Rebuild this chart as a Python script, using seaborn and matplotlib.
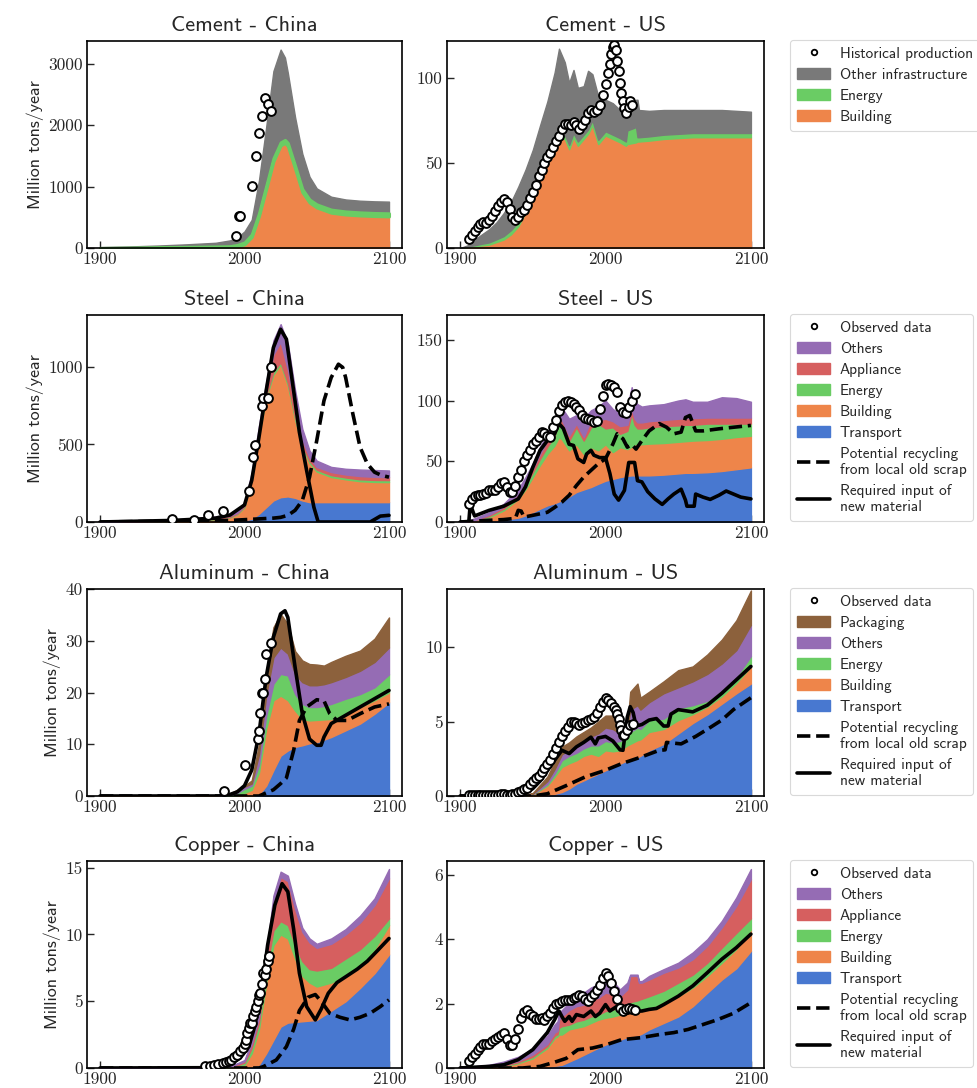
import matplotlib
matplotlib.use("Agg")
import matplotlib.pyplot as plt
import numpy as np
import seaborn as sns
from matplotlib.lines import Line2D
from matplotlib.patches import Patch

sns.set_theme(style="ticks", palette="muted")
plt.rcParams["font.family"] = ["cmss10", "DejaVu Sans"]
plt.rcParams["axes.unicode_minus"] = False

pal = sns.color_palette("muted")
C_TRANSPORT, C_BUILDING, C_ENERGY = pal[0], pal[1], pal[2]
C_APPLIANCE, C_OTHERS, C_PACKAGING, C_INFRA = pal[3], pal[4], pal[5], pal[7]

# ---------------- Cement - China ----------------
cem_cn_years = [1900, 1920, 1940, 1960, 1980, 1990, 1995, 2000, 2005, 2010, 2015, 2020, 2025, 2028,
                2030, 2035, 2040, 2045, 2050, 2060, 2070, 2080, 2090, 2100]
cem_cn_building = [0, 2, 5, 10, 15, 15, 30, 60, 180, 520, 960, 1410, 1670, 1710,
                   1660, 1290, 910, 740, 660, 575, 545, 530, 520, 515]
cem_cn_energy = [0, 1, 3, 8, 10, 15, 20, 30, 40, 45, 50, 50, 50, 50,
                 50, 50, 50, 50, 50, 50, 50, 50, 50, 50]
cem_cn_other = [15, 22, 32, 42, 60, 94, 120, 180, 240, 535, 960, 1420, 1510, 1340,
                1140, 790, 575, 370, 260, 210, 195, 190, 190, 190]
cem_cn_obs_years = [1994, 1996, 1997, 2005, 2008, 2010, 2012, 2014, 2016, 2018]
cem_cn_obs = [190, 520, 520, 1010, 1500, 1870, 2150, 2450, 2340, 2230]

# ---------------- Cement - US ----------------
cem_us_years = [1900, 1905, 1910, 1915, 1920, 1925, 1930, 1935, 1940, 1945, 1950, 1955, 1960, 1965,
                1968, 1972, 1975, 1978, 1981, 1985, 1988, 1991, 1995, 2000, 2005, 2010, 2014, 2015,
                2021, 2022, 2023, 2030, 2040, 2050, 2060, 2070, 2080, 2090, 2100]
cem_us_building = [0, 0.5, 1, 1.5, 2, 3.5, 5, 8, 12.7, 21, 32, 43, 54, 61.5,
                   65, 64, 58, 65, 60, 64, 67, 72, 61, 66, 64, 62, 60, 61,
                   62, 62.5, 62.5, 63, 64, 64.5, 65, 65, 65, 65, 65]
cem_us_energy = [0, 0.3, 0.6, 1, 1.3, 1.6, 2, 2.5, 2.5, 2.5, 2.5, 2.5, 2.5, 2.5,
                 2.5, 2.5, 2.5, 2.5, 2.5, 2.5, 2.5, 3, 2.5, 2.5, 2.5, 2.5, 2.5, 8,
                 9, 2.5, 2.5, 2.5, 2.5, 2.5, 2.5, 2.5, 2.5, 2.5, 2.5]
cem_us_other = [0, 0.7, 3.4, 5.5, 7.7, 9.9, 13.5, 16.5, 20.8, 22.5, 23.1, 26.5, 29.5, 39,
                49.5, 42.5, 36.5, 37, 31.5, 28.5, 34.5, 27, 25.5, 18.5, 18.5, 16.5, 16.5, 10,
                16, 22, 16, 15, 14.5, 14, 13.5, 13.5, 13.5, 13, 12.5]
cem_us_obs_years = [1906, 1908, 1910, 1912, 1914, 1916, 1918, 1920, 1922, 1924, 1926, 1928, 1930,
                    1932, 1934, 1936, 1938, 1940, 1942, 1944, 1946, 1948, 1950, 1952, 1954, 1956,
                    1958, 1960, 1962, 1964, 1966, 1968, 1970, 1972, 1974, 1976, 1978, 1980, 1982,
                    1984, 1986, 1988, 1990, 1992, 1994, 1996, 1998, 2000, 2002, 2003, 2004, 2005,
                    2006, 2007, 2008, 2009, 2010, 2011, 2012, 2013, 2014, 2016, 2017, 2018]
cem_us_obs = [5, 7.5, 10, 12.5, 14, 15, 14.5, 16.5, 19, 22, 24.5, 27, 28.5,
              27, 23, 18, 16.5, 18, 21, 22.5, 25.5, 29.5, 33, 37, 42, 46,
              50, 53.7, 56, 59, 63, 66, 70, 73, 73, 72, 74, 72, 70,
              72, 75, 79, 81, 80, 81, 84, 90, 96, 103, 108, 114, 118,
              119, 116, 110, 104, 97, 91, 86, 82, 79, 83, 86, 84]

# ---------------- Steel - China ----------------
st_cn_years = [1900, 1950, 1980, 1990, 1995, 2000, 2005, 2010, 2015, 2020, 2025, 2030, 2035, 2040,
               2045, 2050, 2060, 2070, 2080, 2090, 2100]
st_cn_transport = [0, 0, 2, 5, 8, 12, 21, 53, 96, 139, 160, 165, 156, 139, 128, 128, 128, 128, 128, 128, 128]
st_cn_building = [2, 5, 16, 25, 42, 84, 259, 507, 704, 811, 857, 715, 504, 341, 252, 197, 162, 147, 135, 130, 129]
st_cn_energy = [0, 1, 2, 3, 4, 6, 10, 13, 16, 19, 13, 16, 16, 14, 13, 12, 12, 12, 12, 13, 13]
st_cn_appliance = [0, 2, 5, 7, 6, 8, 10, 17, 34, 111, 130, 84, 64, 36, 22, 18, 20, 19, 21, 20, 19]
st_cn_others = [2, 7, 10, 15, 20, 15, 20, 30, 50, 90, 115, 170, 110, 70, 45, 40, 33, 37, 42, 44, 43]
st_cn_new_years = [1900, 1950, 1980, 1990, 2000, 2005, 2010, 2015, 2020, 2025, 2029, 2034, 2038, 2043,
                   2048, 2051, 2087, 2094, 2100]
st_cn_new = [0, 10, 25, 45, 110, 268, 546, 846, 1124, 1242, 1178, 846, 578, 332, 96, 0, 0, 38, 43]
st_cn_rec_years = [1900, 1990, 2000, 2010, 2020, 2025, 2030, 2035, 2040, 2045, 2050, 2055, 2060, 2065,
                   2068, 2070, 2075, 2080, 2085, 2090, 2095, 2100]
st_cn_rec = [0, 10, 15, 20, 25, 30, 43, 75, 139, 289, 525, 782, 931, 1017, 996, 931, 696, 482, 375, 321, 300, 289]
st_cn_obs_years = [1950, 1965, 1975, 1985, 2003, 2006, 2007, 2012, 2013, 2016, 2018]
st_cn_obs = [17, 15, 43, 71, 199, 418, 497, 750, 799, 797, 1000]

# ---------------- Steel - US ----------------
st_us_years = [1900, 1905, 1910, 1920, 1930, 1940, 1945, 1950, 1955, 1960, 1965, 1968, 1970, 1975,
               1980, 1985, 1990, 1995, 2000, 2005, 2010, 2015, 2018, 2020, 2022, 2025, 2030, 2040,
               2050, 2055, 2060, 2070, 2080, 2090, 2100]
st_us_transport = [0, 0, 0.3, 1, 2, 3.6, 5.5, 8.2, 11, 13.7, 15.5, 17, 17.8, 21,
                   24.7, 26.8, 28.8, 31.5, 34, 35.5, 37, 38, 38.4, 38.4, 38.4, 38.4, 38.4, 39,
                   40, 40.5, 40.5, 41, 42, 43.5, 45]
st_us_building = [0, 0.3, 0.7, 3, 7.6, 15.4, 21.5, 28.8, 36, 42.3, 47.5, 53, 50.2, 38,
                  39.3, 29.2, 32.8, 27.5, 30, 22, 24.6, 22, 23.6, 25.6, 25.6, 25.6, 26.1, 26,
                  26, 26, 26.5, 26.5, 26.5, 26.5, 26]
st_us_energy = [0, 0.1, 0.3, 1, 1.4, 2, 3, 4, 5, 6, 8, 15, 12, 8,
                14, 11, 16.4, 22, 13, 20.5, 11, 15, 27, 16, 13, 13, 13.5, 14,
                13.5, 13.5, 13, 13.5, 12.5, 11, 10]
st_us_appliance = [0, 0.1, 0.3, 1, 1.5, 2, 3, 3, 4, 5, 5, 3, 4, 4,
                   3, 3, 5.5, 3, 8, 5, 6.4, 5, 4, 5, 5, 5, 5, 5,
                   5.5, 5.5, 5.5, 5, 5, 5, 5]
st_us_others = [0, 0.5, 1.4, 2, 2.5, 4, 4, 4, 6, 6, 9, 8, 10, 14,
                7, 15, 8.5, 11, 15, 10, 10, 15, 18, 15, 15, 13, 13, 13,
                15, 15.5, 13.5, 13, 16.7, 16, 13]
st_us_new_years = [1900, 1906, 1907, 1909, 1910, 1920, 1930, 1935, 1940, 1945, 1950, 1955, 1960, 1965,
                   1968, 1971, 1975, 1978, 1981, 1985, 1987, 1990, 1992, 1996, 2000, 2003, 2006, 2009,
                   2013, 2016, 2020, 2022, 2025, 2029, 2034, 2039, 2043, 2047, 2052, 2055, 2056, 2061,
                   2062, 2067, 2072, 2078, 2083, 2088, 2093, 2100]
st_us_new = [0, 0, 15, 8, 5, 9.6, 13, 16, 19, 29, 45, 59, 67, 72.6,
             81, 77, 64, 63, 52, 49, 56, 59, 55, 53, 53, 40, 23, 18,
             26, 49, 49, 34, 33, 25, 19, 14.5, 19, 23, 27, 18, 13, 13,
             23, 20.5, 18.6, 22, 25.5, 23, 20.5, 19]
st_us_rec_years = [1900, 1920, 1930, 1938, 1940, 1942, 1944, 1950, 1960, 1965, 1970, 1975, 1980, 1985,
                   1990, 1995, 2000, 2005, 2008, 2012, 2015, 2018, 2021, 2025, 2030, 2037, 2042, 2047,
                   2052, 2055, 2058, 2062, 2067, 2078, 2088, 2100]
st_us_rec = [0, 1.4, 2, 3, 9.6, 9, 4, 5.5, 8, 12, 16.4, 22, 30, 37,
             42.5, 48, 52, 64, 72.6, 68.5, 61.6, 64, 60, 67, 75, 81, 78, 72.6,
             74, 86, 87.7, 75, 75, 76.7, 78, 79.5]
st_us_obs_years = list(range(1906, 2021, 2))
st_us_obs = [15, 19, 21, 22, 22.5, 23, 24, 26, 26, 26,
             29, 32, 33, 29, 25, 25, 30, 37, 43, 50,
             55, 59, 64, 67, 70, 74, 73, 71, 70, 78,
             84, 91, 96, 98.6, 100, 99, 97.5, 95, 91.8, 87.7,
             86, 84.5, 83.6, 82, 83, 93, 104, 113, 113.7, 112.5,
             111, 107, 94.5, 90.4, 89.6, 94.5, 100, 105.5]

# ---------------- Aluminum - China ----------------
al_cn_years = [1900, 1980, 1990, 1995, 2000, 2005, 2010, 2015, 2020, 2025, 2030, 2035, 2040, 2045,
               2050, 2055, 2060, 2070, 2080, 2090, 2100]
al_cn_transport = [0, 0, 0, 0, 0, 0, 0.3, 2, 5, 7.8, 8.8, 9.5, 9.8, 10.2, 10.4, 10.9, 11.4, 12.7, 14, 15.9, 18.1]
al_cn_building = [0, 0, 0.05, 0.1, 0.6, 1.2, 4.2, 11, 13.5, 11.6, 9.7, 7, 5.1, 4.4, 4.3, 3.9, 3.5, 3.2, 3.2, 2.6, 1.9]
al_cn_energy = [0, 0.05, 0.15, 0.5, 0.8, 0.8, 1.5, 2.5, 3.2, 4.2, 4.8, 3.2, 2.9, 2.6, 2.5, 2.6, 2.9, 2.9, 2.5, 2.5, 3.5]
al_cn_others = [0, 0.05, 0.2, 0.4, 0.4, 0.4, 2, 4, 5.1, 5.1, 4.2, 3.9, 4.2, 4.2, 4.2, 4.2, 4.2, 4.2, 4.5, 4.9, 5.2]
al_cn_packaging = [0, 0, 0.1, 0.2, 0.2, 0.6, 2, 4.5, 5.8, 6.5, 5.7, 4.4, 4.2, 4.1, 4, 3.6, 3.9, 4.1, 3.9, 4.5, 5.8]
al_cn_new_years = [1900, 1985, 1990, 1995, 2000, 2005, 2010, 2015, 2020, 2025, 2028, 2030, 2035, 2040,
                   2045, 2050, 2053, 2055, 2060, 2070, 2080, 2090, 2100]
al_cn_new = [0, 0, 0.3, 0.8, 2, 5, 12, 23, 30.7, 35.2, 35.8, 34.5, 24.9, 15.9,
             11, 9.8, 9.8, 11.4, 14, 15.6, 17.2, 18.8, 20.4]
al_cn_rec_years = [1900, 2010, 2015, 2020, 2025, 2029, 2034, 2038, 2043, 2050, 2055, 2059, 2064, 2071,
                   2080, 2090, 2100]
al_cn_rec = [0, 0, 0.6, 1.2, 2.4, 3.5, 8.8, 14.6, 17.2, 18.6, 18.4, 15.9, 14.6, 14.6, 15.9, 17.2, 17.8]
al_cn_obs_years = [1986, 2000, 2009, 2010, 2011, 2012, 2013, 2014, 2015, 2018]
al_cn_obs = [1, 6, 11, 12.5, 16, 20, 20, 22.7, 27.5, 29.5]

# ---------------- Aluminum - US ----------------
al_us_years = [1900, 1940, 1950, 1960, 1965, 1970, 1975, 1980, 1985, 1990, 1995, 2000, 2005, 2010,
               2015, 2017, 2022, 2024, 2030, 2040, 2050, 2060, 2070, 2080, 2090, 2100]
al_us_transport = [0, 0, 0, 0.05, 0.15, 0.27, 0.5, 0.83, 1.05, 1.28, 1.5, 1.73, 1.95, 2.17,
                   2.4, 2.45, 2.6, 2.7, 3.07, 3.5, 4.2, 4.9, 5.5, 6.2, 6.9, 7.55]
al_us_building = [0, 0, 0.1, 0.65, 1.15, 1.68, 1.7, 1.57, 1.65, 1.57, 1.2, 1.34, 1.05, 0.9,
                  1.0, 1.05, 1.15, 1.1, 1.23, 1.0, 0.9, 0.6, 0.5, 0.5, 0.7, 1.15]
al_us_energy = [0, 0, 0.02, 0.1, 0.2, 0.45, 0.5, 0.5, 0.5, 0.55, 0.7, 0.63, 0.6, 0.63,
                0.6, 0.8, 0.85, 0.7, 0.8, 0.7, 0.8, 0.6, 0.4, 0.4, 0.4, 0.7]
al_us_others = [0, 0, 0.03, 0.2, 0.3, 0.4, 0.4, 0.5, 0.5, 0.6, 0.8, 0.9, 0.9, 0.5,
                0.5, 1.5, 1.5, 1.3, 1.2, 1.7, 1.4, 1.6, 1.8, 1.8, 1.8, 2.1]
al_us_packaging = [0, 0, 0.05, 0.3, 0.5, 0.5, 0.5, 0.6, 0.6, 0.6, 0.8, 0.8, 0.9, 0.2,
                   0.2, 1.2, 1.45, 0.8, 0.7, 0.8, 1.15, 1.0, 1.3, 1.6, 2.0, 2.3]
al_us_new_years = [1900, 1940, 1945, 1950, 1955, 1960, 1965, 1970, 1975, 1980, 1985, 1990, 1993, 1995,
                   2000, 2005, 2010, 2012, 2015, 2017, 2019, 2021, 2025, 2030, 2035, 2040, 2043, 2045,
                   2050, 2060, 2070, 2080, 2090, 2100]
al_us_new = [0, 0, 0.2, 0.5, 1.0, 1.7, 2.4, 3.07, 2.85, 3.3, 3.6, 3.95, 3.5, 3.9,
             4.0, 3.7, 3.1, 3.07, 5.3, 6.0, 5.6, 4.7, 4.8, 5.1, 5.2, 4.7, 4.7, 5.5,
             5.8, 5.65, 6.1, 6.9, 7.8, 8.7]
al_us_rec_years = [1900, 1950, 1960, 1973, 1986, 2000, 2011, 2024, 2037, 2041, 2042, 2052, 2062, 2072,
                   2080, 2088, 2100]
al_us_rec = [0, 0, 0.15, 0.7, 1.28, 1.73, 2.17, 2.6, 3.07, 3.1, 3.6, 3.5, 4.0, 4.6, 5.1, 5.8, 6.6]
al_us_obs_years = [1906, 1908, 1910, 1912, 1914, 1916, 1918, 1920, 1922, 1924, 1926, 1928, 1930, 1932,
                   1934, 1936, 1938, 1940, 1942, 1944, 1946, 1948,
                   1950, 1952, 1954, 1956, 1958, 1960, 1962, 1964, 1966, 1968, 1970, 1972, 1974, 1976,
                   1978, 1980, 1982, 1984, 1986, 1988, 1990, 1992, 1994, 1996, 1998, 2000, 2002, 2004,
                   2006, 2007, 2008, 2009, 2010, 2011, 2012, 2013, 2015, 2017, 2019]
al_us_obs = [0.05, 0.05, 0.05, 0.06, 0.08, 0.1, 0.1, 0.1, 0.1, 0.1, 0.1, 0.12, 0.12, 0.1,
             0.1, 0.12, 0.15, 0.25, 0.35, 0.45, 0.55, 0.8,
             1.0, 1.2, 1.35, 1.6, 1.9, 2.15, 2.45, 2.8, 3.2, 3.6, 4.0, 4.35, 4.65, 4.95,
             5.0, 4.9, 4.8, 4.9, 5.0, 5.1, 5.2, 5.3, 5.6, 5.95, 6.3, 6.55, 6.45, 6.25,
             5.95, 5.75, 5.5, 5.2, 4.8, 4.4, 4.1, 4.1, 4.4, 4.75, 4.85]

# ---------------- Copper - China ----------------
cu_cn_years = [1900, 1970, 1990, 1995, 2000, 2005, 2010, 2015, 2020, 2025, 2030, 2035, 2040, 2045,
               2050, 2060, 2070, 2080, 2090, 2100]
cu_cn_transport = [0, 0, 0, 0, 0, 0.1, 0.25, 1.1, 2.1, 3.1, 3.4, 3.45, 3.5, 3.55, 3.6, 4.3, 5.0, 6.0, 7.1, 8.5]
cu_cn_building = [0, 0.02, 0.05, 0.1, 0.25, 1.0, 2.65, 5.3, 7.1, 6.9, 6.3, 4.75, 3.4, 2.85, 2.5, 2.1, 1.9, 1.65, 1.8, 2.2]
cu_cn_energy = [0, 0.01, 0.03, 0.1, 0.15, 0.4, 0.5, 0.9, 1.1, 1.0, 1.0, 1.0, 1.1, 1.0, 1.2, 1.1, 1.3, 1.25, 1.0, 0.5]
cu_cn_appliance = [0, 0.01, 0.02, 0.1, 0.1, 0.3, 0.4, 0.8, 2.0, 3.3, 3.3, 2.7, 2.2, 2.0, 1.7, 1.8, 1.8, 2.0, 2.3, 3.0]
cu_cn_others = [0, 0.01, 0.05, 0.05, 0.1, 0.2, 0.2, 0.4, 0.6, 0.4, 0.4, 0.4, 0.3, 0.3, 0.3, 0.4, 0.4, 0.5, 0.5, 0.7]
cu_cn_new_years = [1900, 1970, 1990, 1997, 2003, 2007, 2012, 2016, 2021, 2026, 2030, 2034, 2038, 2043,
                   2049, 2053, 2058, 2064, 2071, 2078, 2085, 2093, 2100]
cu_cn_new = [0, 0.02, 0.3, 0.75, 1.6, 3.1, 5.9, 9.2, 12.2, 13.8, 13.2, 10.4, 7.1, 4.6,
             3.6, 4.4, 5.6, 6.4, 6.9, 7.4, 8.0, 8.9, 9.7]
cu_cn_rec_years = [1900, 2010, 2013, 2022, 2029, 2034, 2038, 2044, 2049, 2053, 2059, 2066, 2073, 2080,
                   2087, 2094, 2100]
cu_cn_rec = [0, 0, 0.1, 0.6, 1.6, 2.9, 4.3, 5.3, 5.5, 5.0, 4.1, 3.8, 3.6, 3.8, 4.1, 4.6, 5.1]
cu_cn_obs_years = [1973, 1976, 1979, 1982, 1985, 1987, 1989, 1991, 1993, 1995, 1997, 1999, 2000, 2001,
                   2002, 2003, 2004, 2005, 2006, 2007, 2008, 2009, 2010, 2011, 2012, 2013, 2014, 2015,
                   2016, 2017]
cu_cn_obs = [0.13, 0.18, 0.25, 0.33, 0.38, 0.45, 0.5, 0.63, 0.8, 1.0, 1.25, 1.5, 1.8, 2.1,
             2.6, 3.0, 3.4, 3.4, 3.9, 4.3, 4.6, 5.0, 5.5, 5.6, 6.3, 7.1, 7.0, 7.4, 8.0, 8.4]

# ---------------- Copper - US ----------------
cu_us_years = [1900, 1905, 1920, 1930, 1940, 1950, 1960, 1965, 1967, 1968, 1970, 1975, 1980, 1985,
               1990, 1995, 2000, 2005, 2010, 2015, 2017, 2022, 2023, 2025, 2030, 2040, 2050, 2060,
               2070, 2080, 2090, 2100]
cu_us_transport = [0, 0, 0, 0, 0, 0, 0.03, 0.07, 0.08, 0.09, 0.1, 0.2, 0.3, 0.41,
                   0.52, 0.63, 0.73, 0.8, 0.88, 0.96, 0.98, 1.02, 1.03, 1.07, 1.2, 1.4, 1.6, 1.92,
                   2.34, 2.75, 3.1, 3.64]
cu_us_building = [0, 0, 0.02, 0.05, 0.15, 0.3, 0.59, 0.86, 0.9, 0.95, 0.94, 1.0, 0.95, 0.89,
                  0.88, 0.87, 0.83, 0.8, 0.78, 0.76, 0.76, 0.74, 0.74, 0.72, 0.67, 0.63, 0.63, 0.58,
                  0.52, 0.52, 0.6, 0.66]
cu_us_energy = [0, 0, 0.01, 0.02, 0.03, 0.05, 0.06, 0.07, 0.07, 0.21, 0.26, 0.15, 0.2, 0.2,
                0.2, 0.16, 0.21, 0.22, 0.21, 0.25, 0.31, 0.34, 0.35, 0.36, 0.36, 0.37, 0.42, 0.4,
                0.41, 0.47, 0.5, 0.35]
cu_us_appliance = [0, 0, 0.01, 0.03, 0.04, 0.07, 0.07, 0.1, 0.1, 0.25, 0.3, 0.45, 0.47, 0.47,
                   0.53, 0.52, 0.57, 0.48, 0.36, 0.47, 0.81, 0.76, 0.53, 0.5, 0.52, 0.56, 0.47, 0.48,
                   0.53, 0.63, 0.84, 1.22]
cu_us_others = [0, 0.03, 0.06, 0.1, 0.13, 0.18, 0.25, 0.25, 0.3, 0.2, 0.2, 0.23, 0.21, 0.37,
                0.37, 0.42, 0.62, 0.4, 0.21, 0.21, 0.04, 0.04, 0.05, 0.05, 0.11, 0.11, 0.15, 0.21,
                0.2, 0.2, 0.26, 0.31]
cu_us_new_years = [1900, 1920, 1930, 1940, 1950, 1960, 1965, 1968, 1970, 1972, 1975, 1977, 1980, 1985,
                   1990, 1993, 1996, 2000, 2003, 2008, 2012, 2015, 2020, 2025, 2030, 2035, 2040, 2050,
                   2060, 2070, 2080, 2090, 2100]
cu_us_new = [0, 0.05, 0.1, 0.26, 0.57, 1.1, 1.5, 1.77, 1.6, 1.45, 1.6, 1.45, 1.66, 1.6,
             1.77, 1.6, 1.7, 1.97, 1.77, 1.92, 1.77, 1.7, 1.77, 1.77, 1.82, 1.85, 1.97, 2.23,
             2.55, 2.96, 3.38, 3.74, 4.16]
cu_us_rec_years = [1900, 1943, 1955, 1965, 1973, 1981, 1991, 2001, 2011, 2024, 2037, 2047, 2057, 2067,
                   2077, 2088, 2100]
cu_us_rec = [0, 0, 0.05, 0.18, 0.3, 0.57, 0.62, 0.73, 0.88, 0.94, 1.04, 1.1, 1.2, 1.35, 1.5, 1.7, 2.03]
cu_us_obs_years = list(range(1906, 2021, 2))
cu_us_obs = [0.22, 0.35, 0.45, 0.57, 0.65, 0.73, 0.76, 0.73, 0.83, 0.9,
             0.97, 1.02, 1.09, 0.9, 0.72, 0.72, 0.9, 1.2, 1.55, 1.75,
             1.8, 1.68, 1.6, 1.52, 1.52, 1.56, 1.5, 1.6, 1.7, 1.85,
             1.98, 2.03, 2.08, 2.12, 2.1, 2.1, 2.18, 2.22, 2.26, 2.25,
             2.13, 2.08, 2.2, 2.3, 2.42, 2.58, 2.8, 2.96, 2.86, 2.65,
             2.4, 2.13, 1.87, 1.77, 1.82, 1.87, 1.82, 1.8]

REC_LABEL = "Potential recycling\nfrom local old scrap"
NEW_LABEL = "Required input of\nnew material"


def draw_panel(ax, title, years, layers, obs, new=None, rec=None, ylim=None, yticks=None):
    bottom = np.zeros(len(years))
    for layer in layers:
        vals, color = layer[0], layer[1]
        lw = layer[2] if len(layer) > 2 else 1.0
        top = bottom + np.asarray(vals, dtype=float)
        # a thicker edge keeps a thin layer visible on steep slopes
        ax.fill_between(years, bottom, top, color=color, ec=color, lw=lw,
                        zorder=2 if lw > 1.0 else 1)
        bottom = top
    if rec is not None:
        sns.lineplot(x=rec[0], y=rec[1], ax=ax, color="black", lw=2.6, linestyle="--", zorder=3)
    if new is not None:
        sns.lineplot(x=new[0], y=new[1], ax=ax, color="black", lw=2.6, zorder=3)
    sns.scatterplot(x=obs[0], y=obs[1], ax=ax, s=40, color="white", edgecolor="black",
                    linewidth=1.4, zorder=5, legend=False)
    ax.set_xlim(1891, 2109)
    ax.set_ylim(*ylim)
    ax.set_xticks([1900, 2000, 2100])
    ax.set_xticklabels(["1900", "2000", "2100"], fontfamily="cmr10", fontsize=12.5)
    ax.set_yticks(yticks)
    ax.set_yticklabels([str(t) for t in yticks], fontfamily="cmr10", fontsize=12.5)
    ax.tick_params(direction="in", length=5, width=1, pad=3)
    for sp in ax.spines.values():
        sp.set_color("black")
        sp.set_linewidth(1.2)
    ax.set_title(title, fontsize=16, pad=7)
    ax.set_xlabel("")
    ax.set_ylabel("")


def add_legend(ax, entries):
    handles, labels = [], []
    for kind, color, label in entries:
        if kind == "obs":
            h = Line2D([], [], marker="o", ls="none", mfc="white", mec="black", ms=4, mew=1.3)
        elif kind == "patch":
            h = Patch(facecolor=color, edgecolor=color)
        elif kind == "dash":
            h = Line2D([], [], color="black", lw=2.6, ls="--")
        else:
            h = Line2D([], [], color="black", lw=2.6)
        handles.append(h)
        labels.append(label)
    leg = ax.legend(handles, labels, loc="upper left", bbox_to_anchor=(1.082, 1.005),
                    borderaxespad=0, fontsize=11, frameon=True, fancybox=True,
                    handlelength=2.2, labelspacing=0.46, handletextpad=0.6, borderpad=0.45)
    leg.get_frame().set_edgecolor("#d0d0d0")
    leg.get_frame().set_linewidth(0.8)


fig = plt.figure(figsize=(9.78, 10.88), dpi=100)
fig.patch.set_facecolor("white")
row_bottoms = [1 - 248 / 1088, 1 - 522 / 1088, 1 - 796 / 1088, 1 - 1068 / 1088]
h = 207 / 1088
left_x, left_w = 87 / 978, 315 / 978
right_x, right_w = 447 / 978, 317 / 978
axes = [(fig.add_axes([left_x, b, left_w, h]), fig.add_axes([right_x, b, right_w, h])) for b in row_bottoms]

# Cement
ax_l, ax_r = axes[0]
draw_panel(ax_l, "Cement - China", cem_cn_years,
           [(cem_cn_building, C_BUILDING), (cem_cn_energy, C_ENERGY, 2.2), (cem_cn_other, C_INFRA)],
           (cem_cn_obs_years, cem_cn_obs), ylim=(0, 3370), yticks=[0, 1000, 2000, 3000])
draw_panel(ax_r, "Cement - US", cem_us_years,
           [(cem_us_building, C_BUILDING), (cem_us_energy, C_ENERGY), (cem_us_other, C_INFRA)],
           (cem_us_obs_years, cem_us_obs), ylim=(0, 121.5), yticks=[0, 50, 100])
add_legend(ax_r, [("obs", None, "Historical production"), ("patch", C_INFRA, "Other infrastructure"),
                  ("patch", C_ENERGY, "Energy"), ("patch", C_BUILDING, "Building")])

# Steel
ax_l, ax_r = axes[1]
draw_panel(ax_l, "Steel - China", st_cn_years,
           [(st_cn_transport, C_TRANSPORT), (st_cn_building, C_BUILDING), (st_cn_energy, C_ENERGY),
            (st_cn_appliance, C_APPLIANCE), (st_cn_others, C_OTHERS)],
           (st_cn_obs_years, st_cn_obs), new=(st_cn_new_years, st_cn_new),
           rec=(st_cn_rec_years, st_cn_rec), ylim=(0, 1334), yticks=[0, 500, 1000])
draw_panel(ax_r, "Steel - US", st_us_years,
           [(st_us_transport, C_TRANSPORT), (st_us_building, C_BUILDING), (st_us_energy, C_ENERGY),
            (st_us_appliance, C_APPLIANCE), (st_us_others, C_OTHERS)],
           (st_us_obs_years, st_us_obs), new=(st_us_new_years, st_us_new),
           rec=(st_us_rec_years, st_us_rec), ylim=(0, 170.4), yticks=[0, 50, 100, 150])
add_legend(ax_r, [("obs", None, "Observed data"), ("patch", C_OTHERS, "Others"),
                  ("patch", C_APPLIANCE, "Appliance"), ("patch", C_ENERGY, "Energy"),
                  ("patch", C_BUILDING, "Building"), ("patch", C_TRANSPORT, "Transport"),
                  ("dash", None, REC_LABEL), ("line", None, NEW_LABEL)])

# Aluminum
ax_l, ax_r = axes[2]
draw_panel(ax_l, "Aluminum - China", al_cn_years,
           [(al_cn_transport, C_TRANSPORT), (al_cn_building, C_BUILDING), (al_cn_energy, C_ENERGY),
            (al_cn_others, C_OTHERS), (al_cn_packaging, C_PACKAGING)],
           (al_cn_obs_years, al_cn_obs), new=(al_cn_new_years, al_cn_new),
           rec=(al_cn_rec_years, al_cn_rec), ylim=(0, 40), yticks=[0, 10, 20, 30, 40])
draw_panel(ax_r, "Aluminum - US", al_us_years,
           [(al_us_transport, C_TRANSPORT), (al_us_building, C_BUILDING), (al_us_energy, C_ENERGY),
            (al_us_others, C_OTHERS), (al_us_packaging, C_PACKAGING)],
           (al_us_obs_years, al_us_obs), new=(al_us_new_years, al_us_new),
           rec=(al_us_rec_years, al_us_rec), ylim=(0, 13.9), yticks=[0, 5, 10])
add_legend(ax_r, [("obs", None, "Observed data"), ("patch", C_PACKAGING, "Packaging"),
                  ("patch", C_OTHERS, "Others"), ("patch", C_ENERGY, "Energy"),
                  ("patch", C_BUILDING, "Building"), ("patch", C_TRANSPORT, "Transport"),
                  ("dash", None, REC_LABEL), ("line", None, NEW_LABEL)])

# Copper
ax_l, ax_r = axes[3]
draw_panel(ax_l, "Copper - China", cu_cn_years,
           [(cu_cn_transport, C_TRANSPORT), (cu_cn_building, C_BUILDING), (cu_cn_energy, C_ENERGY),
            (cu_cn_appliance, C_APPLIANCE), (cu_cn_others, C_OTHERS)],
           (cu_cn_obs_years, cu_cn_obs), new=(cu_cn_new_years, cu_cn_new),
           rec=(cu_cn_rec_years, cu_cn_rec), ylim=(0, 15.5), yticks=[0, 5, 10, 15])
draw_panel(ax_r, "Copper - US", cu_us_years,
           [(cu_us_transport, C_TRANSPORT), (cu_us_building, C_BUILDING), (cu_us_energy, C_ENERGY),
            (cu_us_appliance, C_APPLIANCE), (cu_us_others, C_OTHERS)],
           (cu_us_obs_years, cu_us_obs), new=(cu_us_new_years, cu_us_new),
           rec=(cu_us_rec_years, cu_us_rec), ylim=(0, 6.43), yticks=[0, 2, 4, 6])
add_legend(ax_r, [("obs", None, "Observed data"), ("patch", C_OTHERS, "Others"),
                  ("patch", C_APPLIANCE, "Appliance"), ("patch", C_ENERGY, "Energy"),
                  ("patch", C_BUILDING, "Building"), ("patch", C_TRANSPORT, "Transport"),
                  ("dash", None, REC_LABEL), ("line", None, NEW_LABEL)])

for ax_l, _ in axes:
    ax_l.set_ylabel("Million tons/year", fontsize=13, labelpad=3)

fig.savefig("out.png", dpi=100, facecolor="white")
